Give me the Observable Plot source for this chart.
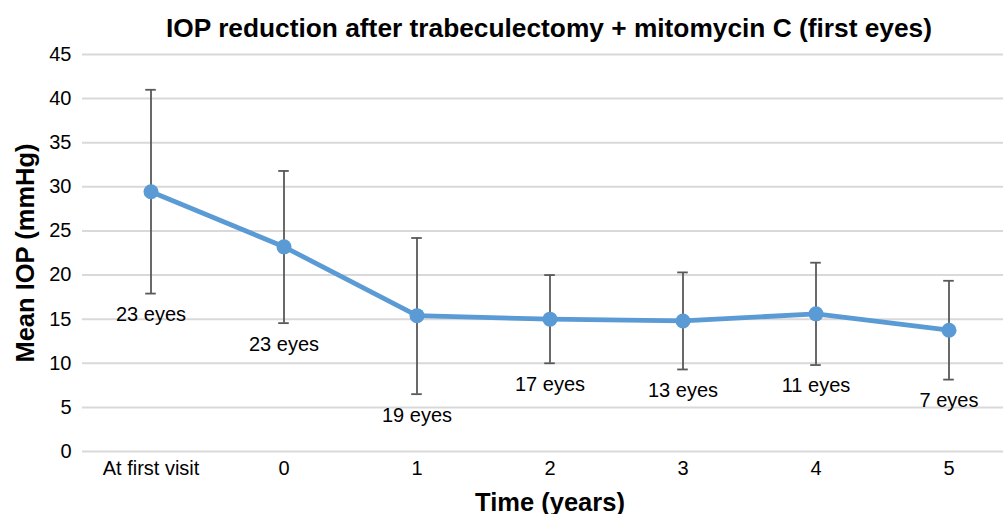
<!DOCTYPE html>
<html><head><meta charset="utf-8">
<script src="https://cdn.jsdelivr.net/npm/d3@7"></script>
<script src="https://cdn.jsdelivr.net/npm/@observablehq/plot@0.6"></script>
<style>
body{margin:0;background:#fff;font-family:"Liberation Sans",Arial,sans-serif;}
#wrap{position:relative;width:1003px;height:514px;overflow:hidden;}
#title{position:absolute;left:82px;width:934px;top:13px;text-align:center;font-weight:bold;font-size:26.3px;color:#000;line-height:30px;white-space:nowrap;}
#chart{position:absolute;left:0;top:0;}
</style></head><body>
<div id="wrap"><div id="chart"></div><div id="title">IOP reduction after trabeculectomy + mitomycin C (first eyes)</div></div>
<script>
const categories = ["At first visit", "0", "1", "2", "3", "4", "5"];
const meanIOP  = [29.45, 23.2, 15.4, 15.0, 14.8, 15.6, 13.75];
const upperIOP = [41.0, 31.8, 24.2, 20.0, 20.3, 21.4, 19.35];
const lowerIOP = [17.9, 14.55, 6.5, 10.0, 9.3, 9.8, 8.15];
const eyeLabels = ["23 eyes", "23 eyes", "19 eyes", "17 eyes", "13 eyes", "11 eyes", "7 eyes"];
const yTicks = [0, 5, 10, 15, 20, 25, 30, 35, 40, 45];
const yTitle = "Mean IOP (mmHg)";
const xTitle = "Time (years)";

const data = categories.map((c, i) => ({time: c, mean: meanIOP[i], hi: upperIOP[i], lo: lowerIOP[i], label: eyeLabels[i]}));
const font = '"Liberation Sans", Arial, sans-serif';
const capInset = (1016 - 82) / categories.length / 2 - 5.5;

const chart = Plot.plot({
  width: 1003, height: 514,
  marginLeft: 82, marginRight: 0, marginTop: 54, marginBottom: 63,
  style: {fontFamily: font, fontSize: "20px", color: "#000", background: "#fff", overflow: "visible"},
  x: {type: "band", domain: categories, range: [82, 1016], padding: 0, label: null},
  y: {domain: [0, 45], label: null},
  marks: [
    Plot.ruleY(yTicks, {stroke: "#d9d9d9", strokeWidth: 2}),
    Plot.axisY({ticks: yTicks, tickSize: 0, tickPadding: 11, fontSize: 20, label: null, fill: "#000"}),
    Plot.axisX({tickSize: 0, tickPadding: 9, fontSize: 20, label: null, fill: "#000"}),
    Plot.ruleX(data, {x: "time", y1: "lo", y2: "hi", stroke: "#595959", strokeWidth: 1.8}),
    Plot.tickY(data, {x: "time", y: "hi", stroke: "#595959", strokeWidth: 1.8, insetLeft: capInset, insetRight: capInset}),
    Plot.tickY(data, {x: "time", y: "lo", stroke: "#595959", strokeWidth: 1.8, insetLeft: capInset, insetRight: capInset}),
    Plot.line(data, {x: "time", y: "mean", stroke: "#5b9bd5", strokeWidth: 4.8}),
    Plot.dot(data, {x: "time", y: "mean", r: 7.5, fill: "#5b9bd5", stroke: "none"}),
    Plot.text(data, {x: "time", y: "lo", text: "label", dy: 21, fontSize: 20, fill: "#000"}),
    Plot.text([yTitle], {frameAnchor: "left", dx: -57, rotate: -90, textAnchor: "middle", lineAnchor: "middle", fontWeight: "bold", fontSize: 25.5, fill: "#000"}),
    Plot.text([xTitle], {frameAnchor: "bottom", dx: 7, dy: 51, textAnchor: "middle", lineAnchor: "middle", fontWeight: "bold", fontSize: 25.5, fill: "#000"})
  ]
});
document.getElementById("chart").appendChild(chart);
</script>
</body></html>
